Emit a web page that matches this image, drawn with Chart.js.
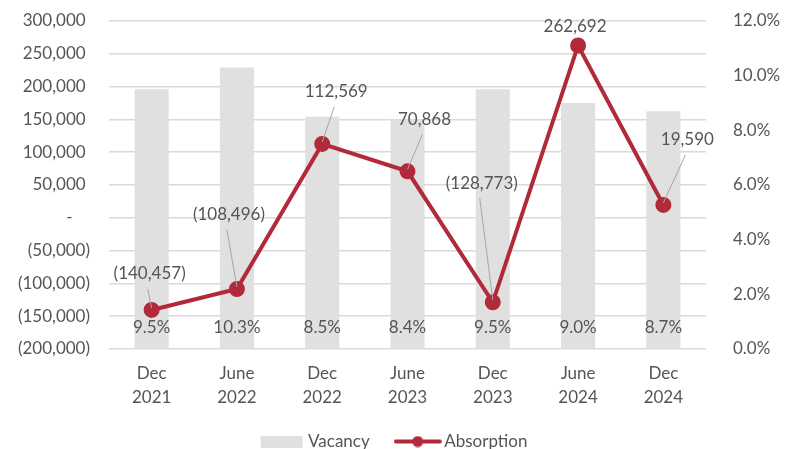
<!DOCTYPE html>
<html>
<head>
<meta charset="utf-8">
<script src="https://cdn.jsdelivr.net/npm/chart.js@4.4.1/dist/chart.umd.min.js"></script>
<style>
  html, body { margin: 0; padding: 0; background: #fff; overflow: hidden; }
  #wrap { width: 791px; height: 464px; position: relative; }
</style>
</head>
<body>
<div id="wrap"><canvas id="graphiqueVacance"></canvas></div>
<script>
var periodes = [['Dec', '2021'], ['June', '2022'], ['Dec', '2022'], ['June', '2023'], ['Dec', '2023'], ['June', '2024'], ['Dec', '2024']];
var vacance = [9.5, 10.3, 8.5, 8.4, 9.5, 9.0, 8.7];
var absorption = [-140457, -108496, 112569, 70868, -128773, 262692, 19590];

// label offsets from each absorption point (dx, dy), and whether a leader line is drawn
var decalages = [[-2, -36], [-8, -74], [14, -52], [17, -52], [-11, -119], [-3, -19], [24, -65]];
var avecTrait = [true, true, true, true, true, false, true];

var rouge = '#B22A39';
var gris = '#E0E0E0';
var texte = '#555555';
var police = 'Lato, "Open Sans", sans-serif';

Chart.defaults.font.family = police;
Chart.defaults.font.size = 17;
Chart.defaults.color = texte;

function formatMilliers(v) {
    if (v === 0) return '-    ';
    var s = Math.abs(v).toLocaleString('en-US');
    return v < 0 ? '(' + s + ')' : s + ' ';
}

// legend swatches
function iconeBarre() {
    var c = document.createElement('canvas');
    c.width = 44; c.height = 12;
    var x = c.getContext('2d');
    x.fillStyle = gris;
    x.fillRect(1, 0, 42, 12);
    return c;
}
function iconeLigne() {
    var c = document.createElement('canvas');
    c.width = 48; c.height = 12;
    var x = c.getContext('2d');
    x.strokeStyle = rouge;
    x.lineWidth = 4;
    x.lineCap = 'round';
    x.beginPath(); x.moveTo(2, 6); x.lineTo(46, 6); x.stroke();
    x.fillStyle = rouge;
    x.beginPath(); x.arc(24, 6, 5.5, 0, Math.PI * 2); x.fill();
    return c;
}

// y axes: fixed width, no extra room for the end labels
function axeFixe(largeur) {
    return function (s) {
        s.width = largeur;
        s.paddingTop = 0;
        s.paddingBottom = 0;
    };
}

var etiquettes = {
    id: 'etiquettes',
    afterDatasetsDraw: function (chart) {
        var ctx = chart.ctx;
        var yDroite = chart.scales.y1;
        ctx.save();
        ctx.font = '17px ' + police;
        ctx.fillStyle = texte;
        ctx.textAlign = 'center';
        ctx.textBaseline = 'middle';

        // vacancy labels at the base of the bars
        var barres = chart.getDatasetMeta(0).data;
        barres.forEach(function (b, i) {
            ctx.fillText(vacance[i].toFixed(1) + '%', b.x, yDroite.getPixelForValue(0) - 21);
        });

        // absorption labels with leader lines
        var points = chart.getDatasetMeta(1).data;
        points.forEach(function (p, i) {
            var cx = p.x + decalages[i][0];
            var cy = p.y + decalages[i][1];
            if (avecTrait[i]) {
                ctx.strokeStyle = '#A6A6A6';
                ctx.lineWidth = 1;
                ctx.beginPath();
                ctx.moveTo(cx - 2, cy + 15);
                ctx.lineTo(p.x, p.y - 2);
                ctx.stroke();
            }
            ctx.fillText(formatMilliers(absorption[i]).trim(), cx, cy);
        });
        ctx.restore();
    }
};

var ctx = document.getElementById('graphiqueVacance').getContext('2d');

var graphique = new Chart(ctx, {
    type: 'bar',
    data: {
        labels: periodes,
        datasets: [
            {
                label: 'Vacancy',
                data: vacance,
                yAxisID: 'y1',
                backgroundColor: gris,
                barPercentage: 0.4,
                categoryPercentage: 1,
                order: 2
            },
            {
                type: 'line',
                label: 'Absorption',
                data: absorption,
                yAxisID: 'y',
                borderColor: rouge,
                backgroundColor: rouge,
                borderWidth: 4,
                pointRadius: 6,
                pointHoverRadius: 6,
                tension: 0,
                order: 1
            }
        ]
    },
    options: {
        responsive: true,
        maintainAspectRatio: false,
        animation: false,
        layout: { padding: { top: 21, left: 0, right: 0, bottom: 4 } },
        plugins: {
            tooltip: { enabled: false },
            legend: {
                position: 'bottom',
                labels: {
                    usePointStyle: true,
                    pointStyleWidth: 36,
                    padding: 30,
                    color: texte,
                    font: { size: 17 },
                    generateLabels: function () {
                        return [
                            { text: 'Vacancy', pointStyle: iconeBarre(), fontColor: texte, datasetIndex: 0 },
                            { text: 'Absorption', pointStyle: iconeLigne(), fontColor: texte, datasetIndex: 1 }
                        ];
                    }
                }
            }
        },
        scales: {
            x: {
                grid: { display: false },
                border: { display: false },
                ticks: { padding: 5, maxRotation: 0, font: { size: 17, lineHeight: 1.4 } },
                afterFit: function (s) { s.height = 54; }
            },
            y: {
                position: 'left',
                min: -200000,
                max: 300000,
                grid: { color: '#D9D9D9', lineWidth: 1.5, drawTicks: false },
                border: { display: false },
                ticks: {
                    stepSize: 50000,
                    padding: 19,
                    callback: function (v) { return formatMilliers(v); }
                },
                afterFit: axeFixe(109)
            },
            y1: {
                position: 'right',
                min: 0,
                max: 12,
                grid: { display: false },
                border: { display: false },
                ticks: {
                    stepSize: 2,
                    padding: 19,
                    callback: function (v) { return v.toFixed(1) + '%'; }
                },
                afterFit: axeFixe(85)
            }
        }
    },
    plugins: [etiquettes]
});
</script>
</body>
</html>
